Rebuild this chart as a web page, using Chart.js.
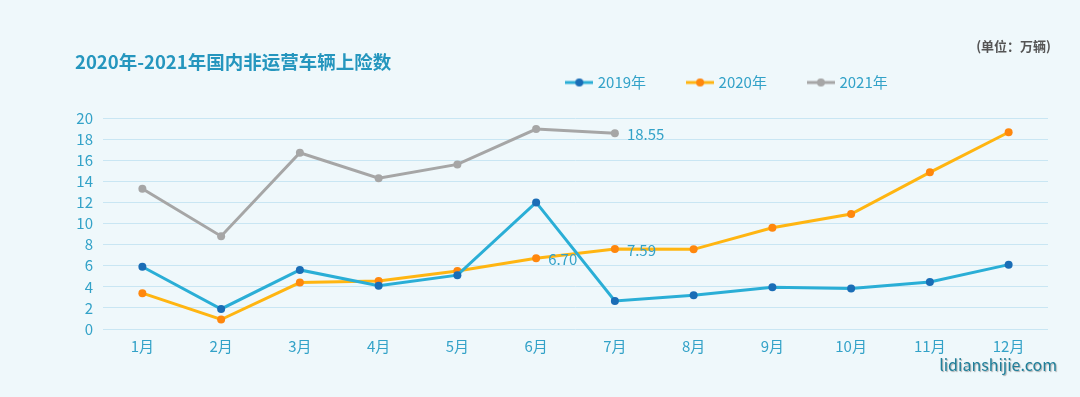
<!DOCTYPE html>
<html><head><meta charset="utf-8">
<script src="https://cdn.jsdelivr.net/npm/chart.js@4/dist/chart.umd.min.js"></script>
<style>
html,body{margin:0;padding:0;background:#eff8fb;}
#wrap{width:1080px;height:397px;position:relative;}
</style></head>
<body><div id="wrap"><canvas id="c" width="1080" height="397"></canvas></div>
<script>
const months = ['1月','2月','3月','4月','5月','6月','7月','8月','9月','10月','11月','12月'];
const seriesNames = ['2019年','2020年','2021年'];
const v2019 = [5.9, 1.9, 5.6, 4.1, 5.1, 12.0, 2.65, 3.2, 3.95, 3.85, 4.45, 6.1];
const v2020 = [3.4, 0.9, 4.4, 4.55, 5.5, 6.70, 7.59, 7.55, 9.6, 10.9, 14.85, 18.65];
const v2021 = [13.3, 8.8, 16.7, 14.3, 15.6, 18.95, 18.55, null, null, null, null, null];
const yTicks = [0,2,4,6,8,10,12,14,16,18,20];
const titleText = '2020年-2021年国内非运营车辆上险数';
const unitText = '(单位：万辆)';
const watermark = 'lidianshijie.com';
// labelled points: [datasetIndex, pointIndex]
const labelled = [[2,6],[1,5],[1,6]];

const lineColors = ['#2aaed6','#ffb511','#a6a6a6'];
const pointColors = ['#1a6db6','#ff870d','#a6a6a6'];
const textColor = '#33a2c8';
const FONT = '"Noto Sans CJK SC","Noto Sans",sans-serif';

function marker(i){
  const c = document.createElement('canvas');
  c.width = 28; c.height = 10;
  const x = c.getContext('2d');
  x.strokeStyle = lineColors[i]; x.lineWidth = 3;
  x.beginPath(); x.moveTo(0,5); x.lineTo(28,5); x.stroke();
  x.fillStyle = pointColors[i];
  x.beginPath(); x.arc(14,5,4,0,Math.PI*2); x.fill();
  return c;
}
const markers = [marker(0),marker(1),marker(2)];

const decor = {
  id:'decor',
  afterLayout(chart){
    const lg = chart.legend;
    const dx = 204, dy = -18;
    lg.left += dx; lg.right += dx; lg.top += dy; lg.bottom += dy;
  },
  afterDraw(chart){
    const ctx = chart.ctx;
    ctx.save();
    ctx.textBaseline = 'middle';
    ctx.font = 'bold 18.5px ' + FONT;
    ctx.fillStyle = '#2596be';
    ctx.textAlign = 'left';
    ctx.fillText(titleText, 75, 62);
    ctx.font = 'bold 13px ' + FONT;
    ctx.fillStyle = '#555';
    ctx.textAlign = 'right';
    ctx.fillText(unitText, 1051, 46);
    // data labels
    ctx.font = '15px ' + FONT;
    ctx.fillStyle = textColor;
    ctx.textAlign = 'left';
    labelled.forEach(([d,p])=>{
      const el = chart.getDatasetMeta(d).data[p];
      const val = chart.data.datasets[d].data[p];
      ctx.fillText(val.toFixed(2), el.x + 12, el.y + 1);
    });
    // watermark
    ctx.font = '16px ' + FONT;
    ctx.textAlign = 'right';
    ctx.shadowColor = 'rgba(120,120,120,0.6)';
    ctx.shadowBlur = 1; ctx.shadowOffsetX = 1; ctx.shadowOffsetY = 1;
    ctx.fillStyle = '#1f7f9a';
    ctx.fillText(watermark, 1057, 365);
    ctx.restore();
  }
};

const values = [v2019, v2020, v2021];
new Chart(document.getElementById('c'), {
  type:'line',
  data:{
    labels: months,
    datasets: values.map((v,i)=>({
      label: seriesNames[i],
      data: v,
      borderColor: lineColors[i],
      backgroundColor: pointColors[i],
      pointBackgroundColor: pointColors[i],
      pointBorderColor: pointColors[i],
      borderWidth: 3,
      pointRadius: 4,
      pointBorderWidth: 0,
      tension: 0,
      fill: false,
      spanGaps: false
    }))
  },
  options:{
    responsive:false,
    animation:false,
    layout:{padding:{top:50,right:32,bottom:34,left:0}},
    plugins:{
      legend:{
        display:true,
        position:'top',
        labels:{
          usePointStyle:true,
          pointStyleWidth:22,
          padding:43,
          color:textColor,
          font:{size:15,family:FONT},
          generateLabels(chart){
            return chart.data.datasets.map((ds,i)=>({
              text: ds.label,
              pointStyle: markers[i],
              fillStyle: pointColors[i],
              strokeStyle: lineColors[i],
              lineWidth: 0,
              fontColor: textColor,
              hidden: false,
              datasetIndex: i
            }));
          }
        }
      },
      title:{display:false},
      tooltip:{enabled:false}
    },
    scales:{
      x:{
        offset:true,
        grid:{display:false, drawTicks:false},
        border:{display:false},
        ticks:{color:textColor, font:{size:15,family:FONT}, padding:8}
      },
      y:{
        min:0, max:20,
        afterFit(s){ s.width = 103; },
        afterBuildTicks(s){ s.ticks = yTicks.map(v=>({value:v})); },
        grid:{color:'#c9e6f3', lineWidth:1, drawTicks:false},
        border:{display:false},
        ticks:{color:textColor, font:{size:15,family:FONT}, padding:10, autoSkip:false}
      }
    }
  },
  plugins:[decor]
});
</script>
</body></html>
